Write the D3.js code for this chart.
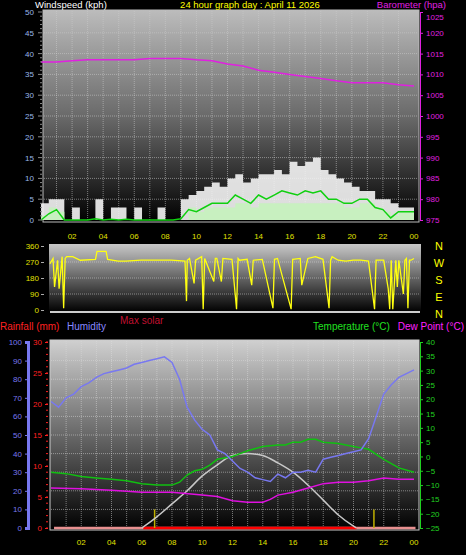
<!DOCTYPE html>
<html><head><meta charset="utf-8">
<script src="https://cdn.jsdelivr.net/npm/d3@7"></script>
<style>body{margin:0;background:#000}svg{display:block}text{font-family:"Liberation Sans",Arial,sans-serif}</style>
</head><body><svg id="c" width="466" height="555"></svg>
<script>
const hours=[0,0.5,1,1.5,2,2.5,3,3.5,4,4.5,5,5.5,6,6.5,7,7.5,8,8.5,9,9.5,10,10.5,11,11.5,12,12.5,13,13.5,14,14.5,15,15.5,16,16.5,17,17.5,18,18.5,19,19.5,20,20.5,21,21.5,22,22.5,23,23.5,24];
const gust=[4,5,5,0,3,0,0,5,0,3,3,0,3,0,0,3,0,0,5,6,7,8,9,8,10,11,9,10,11,11,12,11,14,13,14,15,12,11,10,9,8,7,7,5,5,4,3,3,3];
const speed=[1,3,2,0,0,0,0,0,0,0,0,0,0,0,0,0,0,0,0,3,2,3,3,3,3,4,4,3,4,4,4,4,4,4,4,4,4,4,4,3,3,4,4,3,2,1,2,2,2];
const avgWind=[0,1.5,2.5,0,0,0,0,0.3,0,0.2,0,0.2,0,0,0,0,0,0,0.3,2.5,2,3,4,4,4,6,5,4,6,5,6,7,6.5,6,7,6.5,7,5,5,4,4,5,5,3,2.5,0.5,2,2,2];
const baroHours=[0,1,2,3,4,5,6,7,8,9,10,11,12,13,14,15,16,17,18,19,20,21,22,23,24];
const baro=[1013,1013,1013.3,1013.5,1013.5,1013.5,1013.5,1013.8,1013.8,1013.8,1013.5,1013.3,1012.5,1012,1011,1010.5,1010,1009.5,1009,1008.5,1008,1008,1008,1007.5,1007.2];
const dirHours=[0,0.2,0.3,0.5,0.6,0.8,0.9,1,1.1,1.5,2,3,3.1,3.7,3.8,4.5,5,6,7,8,8.9,9,9.05,9.2,9.5,9.6,10,10.1,10.2,10.8,10.9,11,11.3,11.4,12,12.3,12.4,12.5,13,13.3,13.4,14,14.7,14.8,15,15.9,16,16.5,16.6,17,17.5,18,18.4,18.5,18.6,19,19.5,20,20.5,21,21.4,21.5,22,22.3,22.4,22.5,22.6,22.8,22.9,23,23.3,23.4,23.5,23.6,23.7,23.8,24];
const dirVals=[260,290,130,280,120,300,10,290,300,300,280,285,330,330,285,275,275,280,280,280,275,50,280,290,150,280,300,5,290,160,290,290,160,290,285,5,290,280,285,140,280,285,10,285,290,5,285,290,140,290,300,285,10,280,300,280,275,280,280,275,5,280,280,120,5,280,5,280,130,280,90,280,290,10,280,280,290];
const tHours=[0,1,2,3,4,5,6,7,8,8.5,9,9.5,10,10.5,11,12,12.5,13,14,15,15.5,16,16.5,17,17.5,18,19,20,20.5,21,22,23,24];
const temp=[-5.5,-6,-7,-7.5,-8,-8.5,-9.5,-10,-10,-9,-6.5,-5,-4.5,-3,-1,0,1,2,3.5,4,4,5,5,6,6,5,4.5,3.5,3,2.5,-1,-4,-5.5];
const dHours=[0,2,4,6,8,10,11,12,13,14,14.5,15,16,17,18,19,20,21,22,23,24];
const dew=[-11,-11.3,-11.8,-12.5,-12.5,-13.5,-14,-15.5,-16,-16,-15,-13.5,-12.5,-11,-9.5,-9,-9,-8.5,-7.5,-8,-8];
const hum=[68,65,70,72,76,78,81,83,84,85,86,88,89,90,91,92,89,80,65,58,53,50,42,40,36,32,30,27,26,25,29,27,30,30,31,30,37,38,39,40,41,42,48,60,72,77,81,83,85];
const solHours=[6,7,8,9,10,11,12,13,14,15,16,17,18,19,20,20.2];
const solar=[0,6,13,20,28,34,39,40,39,35,30,23,15,7,1,0];
const sunMarks=[6.85,21.35];
const xLabels=["02","04","06","08","10","12","14","16","18","20","22","00"];

const svg=d3.select("#c");
const defs=svg.append("defs");
function grad(id,stops){const g=defs.append("linearGradient").attr("id",id).attr("x1",0).attr("x2",0).attr("y1",0).attr("y2",1);stops.forEach(s=>g.append("stop").attr("offset",s[0]).attr("stop-color",s[1]));}
grad("g1",[[0,"#bcbcbc"],[0.5,"#6a6a6a"],[1,"#000"]]);
grad("g2",[[0,"#c8c8c8"],[1,"#000"]]);
grad("g3",[[0,"#d0d0d0"],[1,"#000"]]);

function txt(x,y,s,c,a,size){return svg.append("text").attr("x",x).attr("y",y).text(s).attr("fill",c).attr("font-size",size||11).attr("text-anchor",a||"start");}

// ---- top panel
const x1=d3.scaleLinear().domain([0,24]).range([41,414]);
const y1=d3.scaleLinear().domain([0,50]).range([220,12]);
const yb=d3.scaleLinear().domain([975,1025]).range([220,12]);
svg.append("rect").attr("x",43).attr("y",10).attr("width",376).attr("height",212).attr("fill","url(#g1)").attr("stroke","#bbb");
const gr=svg.append("g").attr("stroke","#ccc").attr("stroke-opacity",0.55).attr("stroke-dasharray","1,1");
d3.range(1,24).forEach(h=>gr.append("line").attr("x1",x1(h)).attr("x2",x1(h)).attr("y1",11).attr("y2",221));
d3.range(5,50,5).forEach(v=>gr.append("line").attr("x1",44).attr("x2",418).attr("y1",y1(v)).attr("y2",y1(v)));
svg.append("path").datum(hours).attr("fill","#f4f4f4").attr("fill-opacity",0.9)
 .attr("d",d3.area().x(h=>x1(h)).y0(y1(0)).y1((h,i)=>y1(gust[i])).curve(d3.curveStepAfter));
svg.append("path").datum(hours).attr("fill","#c8f0c0")
 .attr("d",d3.area().x(h=>x1(h)).y0(y1(0)).y1((h,i)=>y1(speed[i])).curve(d3.curveStepAfter));
svg.append("path").datum(hours).attr("fill","none").attr("stroke","#10d010").attr("stroke-width",1.5)
 .attr("d",d3.line().x(h=>x1(h)).y((h,i)=>y1(avgWind[i])));
svg.append("path").datum(baroHours).attr("fill","none").attr("stroke","#e020e0").attr("stroke-width",1.5)
 .attr("d",d3.line().x(h=>x1(h)).y((h,i)=>yb(baro[i])));
const al=svg.append("g").attr("transform","translate(40,0)").call(d3.axisLeft(y1).tickValues(d3.range(0,51,5)).tickSize(0).tickPadding(6));
al.selectAll("text").attr("fill","#9ab8e8").attr("font-size",8);al.select(".domain").remove();
const tk=svg.append("g").attr("fill","#888");
d3.range(0,51,1).forEach(v=>tk.append("rect").attr("x",v%5?40:38).attr("y",y1(v)-0.5).attr("width",v%5?2:4).attr("height",1));
const ar=svg.append("g").attr("transform","translate(420,0)").call(d3.axisRight(yb).tickValues(d3.range(975,1026,5)).tickFormat(d3.format("d")).tickSize(3).tickPadding(3));
ar.selectAll("text").attr("fill","#e020e0").attr("font-size",8).attr("dy",d=>d===1025?"0.9em":"0.32em");ar.selectAll("line").attr("stroke","#e020e0");ar.select(".domain").attr("stroke","#e020e0");
xLabels.forEach((l,i)=>txt(x1(2+2*i),239,l,"#e0e000","middle",8));

// header
txt(35,8,"Windspeed (kph)","#fff","start",9.5);
txt(250,8,"24 hour graph day : April 11 2026","#ffff00","middle",9.5);
txt(446,8,"Barometer (hpa)","#e020e0","end",9.5);

// ---- wind direction panel
const x2=d3.scaleLinear().domain([0,24]).range([50,414]);
const y2=d3.scaleLinear().domain([0,360]).range([310,246]);
svg.append("rect").attr("x",49).attr("y",244).attr("width",372).attr("height",68).attr("fill","url(#g2)");
const gr2=svg.append("g").attr("stroke","#ddd").attr("stroke-opacity",0.5).attr("stroke-dasharray","1,1");
[90,180,270].forEach(v=>gr2.append("line").attr("x1",50).attr("x2",420).attr("y1",y2(v)).attr("y2",y2(v)));
svg.append("line").attr("x1",50).attr("x2",420).attr("y1",312).attr("y2",312).attr("stroke","#ccc").attr("stroke-width",2);
svg.append("path").datum(dirHours).attr("fill","none").attr("stroke","#ffff10").attr("stroke-width",1.3)
 .attr("d",d3.line().x(h=>x2(h)).y((h,i)=>y2(dirVals[i])));
const a2=svg.append("g").attr("transform","translate(44,0)").call(d3.axisLeft(y2).tickValues([0,90,180,270,360]).tickSize(3).tickPadding(2));
a2.selectAll("text").attr("fill","#e0e000").attr("font-size",8);a2.selectAll("line").attr("stroke","#aaa");a2.select(".domain").remove();
["N","W","S","E","N"].forEach((l,i)=>txt(439,250+i*17,l,"#ffff00","middle",11));

// labels row
txt(0,330,"Rainfall (mm)","#ff2020","start",10);
txt(67,330,"Humidity","#8888ff","start",10);
txt(120,324,"Max solar","#c01030","start",10);
txt(313,330,"Temperature (°C)","#20e020","start",10);
txt(464,330,"Dew Point (°C)","#ff20ff","end",10);

// ---- bottom panel
const x3=d3.scaleLinear().domain([0,24]).range([51,414]);
const yh=d3.scaleLinear().domain([0,100]).range([528,342]);
const yr=d3.scaleLinear().domain([0,30]).range([528,342]);
const yt=d3.scaleLinear().domain([-25,40]).range([528,342]);
svg.append("rect").attr("x",50).attr("y",340).attr("width",369).attr("height",190).attr("fill","url(#g3)").attr("stroke","#ccc");
const gr3=svg.append("g").attr("stroke","#ddd").attr("stroke-opacity",0.5).attr("stroke-dasharray","1,1");
d3.range(1,24).forEach(h=>gr3.append("line").attr("x1",x3(h)).attr("x2",x3(h)).attr("y1",341).attr("y2",529));
d3.range(10,100,10).forEach(v=>gr3.append("line").attr("x1",51).attr("x2",418).attr("y1",yh(v)).attr("y2",yh(v)));
svg.append("line").attr("x1",x3(0.2)).attr("x2",x3(24.1)).attr("y1",yr(0)).attr("y2",yr(0)).attr("stroke","#e89090").attr("stroke-width",2.5);
svg.append("line").attr("x1",x3(6.1)).attr("x2",x3(20.2)).attr("y1",yr(0)).attr("y2",yr(0)).attr("stroke","#ff0000").attr("stroke-width",2.5);
sunMarks.forEach(h=>svg.append("line").attr("x1",x3(h)).attr("x2",x3(h)).attr("y1",yh(0)).attr("y2",yh(10)).attr("stroke","#c0b000").attr("stroke-width",1.5));
svg.append("path").datum(solHours).attr("fill","none").attr("stroke","#c8c8c8").attr("stroke-width",1.5)
 .attr("d",d3.line().x(h=>x3(h)).y((h,i)=>yh(solar[i])).curve(d3.curveMonotoneX));
svg.append("path").datum(dHours).attr("fill","none").attr("stroke","#e010e0").attr("stroke-width",1.5)
 .attr("d",d3.line().x(h=>x3(h)).y((h,i)=>yt(dew[i])));
svg.append("path").datum(tHours).attr("fill","none").attr("stroke","#10c010").attr("stroke-width",1.5)
 .attr("d",d3.line().x(h=>x3(h)).y((h,i)=>yt(temp[i])));
svg.append("path").datum(hours).attr("fill","none").attr("stroke","#7878f0").attr("stroke-width",1.5)
 .attr("d",d3.line().x(h=>x3(h)).y((h,i)=>yh(hum[i])));
const ah=svg.append("g").attr("transform","translate(28,0)").call(d3.axisLeft(yh).tickValues(d3.range(0,101,10)).tickSize(3).tickPadding(3));
ah.selectAll("text").attr("fill","#7878f0").attr("font-size",8);ah.selectAll("line").attr("stroke","#7878f0");
ah.select(".domain").attr("stroke","#7878f0").attr("stroke-width",3);
const arr=svg.append("g").attr("transform","translate(48,0)").call(d3.axisLeft(yr).tickValues(d3.range(0,31,5)).tickSize(3).tickPadding(3));
arr.selectAll("text").attr("fill","#ff2020").attr("font-size",8);arr.selectAll("line").attr("stroke","#ff2020");arr.select(".domain").remove();
const tk3=svg.append("g").attr("fill","#ff2020");
d3.range(0,31,1).forEach(v=>tk3.append("rect").attr("x",46).attr("y",yr(v)-0.5).attr("width",2).attr("height",1));
const at=svg.append("g").attr("transform","translate(420,0)").call(d3.axisRight(yt).tickValues(d3.range(-25,41,5)).tickSize(3).tickPadding(3));
at.selectAll("text").attr("fill","#20d020").attr("font-size",8);at.selectAll("line").attr("stroke","#20d020");at.select(".domain").attr("stroke","#20d020");
xLabels.forEach((l,i)=>txt(x3(2+2*i),545,l,"#e0e000","middle",8));
</script></body></html>
